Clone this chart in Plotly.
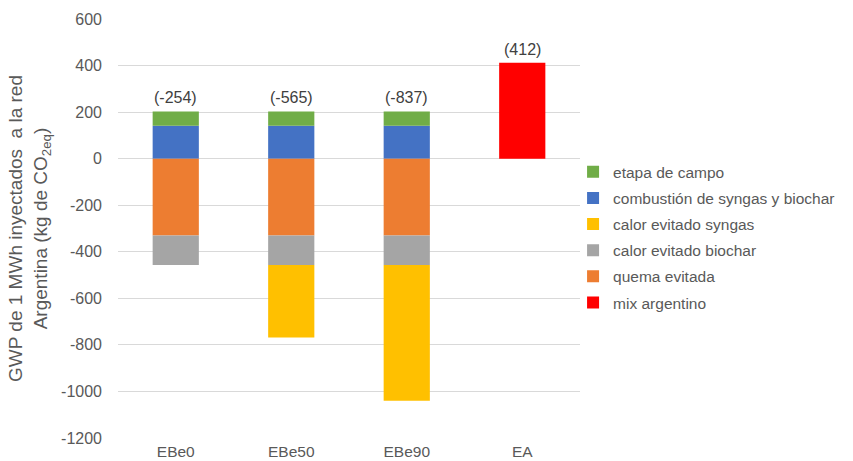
import plotly.graph_objects as go

# Escenarios y contribuciones al GWP (kg CO2eq por MWh inyectado)
escenarios = ["EBe0", "EBe50", "EBe90", "EA"]
etapa_campo = [62, 62, 62, 0]
combustion = [141, 141, 141, 0]
calor_syngas = [0, -311, -583, 0]
calor_biochar = [-127, -127, -127, 0]
quema_evitada = [-330, -330, -330, 0]
mix_argentino = [0, 0, 0, 412]

# Marcas del eje vertical (con guion simple)
y_ticks = [600, 400, 200, 0, -200, -400, -600, -800, -1000, -1200]

FONT = "Liberation Sans, Arial, sans-serif"

# Orden de apilado: positivos desde cero hacia arriba, negativos hacia abajo
series = [
    ("combustión de syngas y biochar", combustion, "#4472C4", 2),
    ("etapa de campo", etapa_campo, "#70AD47", 1),
    ("quema evitada", quema_evitada, "#ED7D31", 5),
    ("calor evitado biochar", calor_biochar, "#A5A5A5", 4),
    ("calor evitado syngas", calor_syngas, "#FFC000", 3),
    ("mix argentino", mix_argentino, "#FF0000", 6),
]

fig = go.Figure()
for nombre, valores, color, rango in series:
    fig.add_trace(go.Bar(
        x=escenarios, y=valores, name=nombre,
        marker=dict(color=color, line=dict(width=0)),
        legendrank=rango, legendgroup=nombre,
        hoverinfo="skip",
    ))

# Totales netos sobre cada barra
componentes = [etapa_campo, combustion, calor_syngas, calor_biochar, quema_evitada, mix_argentino]
for i, esc in enumerate(escenarios):
    total = sum(c[i] for c in componentes)
    tope = sum(c[i] for c in componentes if c[i] > 0)
    fig.add_annotation(
        x=esc, y=tope, text=f"({total})", showarrow=False,
        yanchor="bottom", yshift=3,
        font=dict(family=FONT, size=16, color="#404040"),
    )

fig.update_layout(
    barmode="relative",
    bargap=0.6,
    width=853, height=461,
    margin=dict(l=118, r=273, t=19, b=23),
    plot_bgcolor="white", paper_bgcolor="white",
    font=dict(family=FONT, color="#595959"),
    legend=dict(
        x=0.985, xanchor="left", y=0.675, yanchor="top",
        font=dict(family=FONT, size=15.5, color="#595959"),
        tracegroupgap=3, itemwidth=30,
        bgcolor="rgba(0,0,0,0)",
    ),
    showlegend=True,
)
fig.update_xaxes(
    showgrid=False, showline=False, zeroline=False,
    tickfont=dict(family=FONT, size=15.5, color="#595959"),
    ticks="", ticklabelstandoff=2, automargin=False,
)
fig.update_yaxes(
    range=[-1200, 600],
    tickmode="array", tickvals=y_ticks, ticktext=[str(v) for v in y_ticks],
    showgrid=True, gridcolor="#D9D9D9", gridwidth=1,
    zeroline=True, zerolinecolor="#D9D9D9", zerolinewidth=1,
    showline=False, automargin=False,
    tickfont=dict(family=FONT, size=16, color="#595959"),
    ticks="", ticklabelstandoff=15,
    title=dict(
        text="GWP de 1 MWh inyectados  a la red<br>Argentina (kg de CO<sub>2eq</sub>)",
        font=dict(family=FONT, size=19, color="#595959"),
        standoff=8,
    ),
)

fig.write_html("out.html")
